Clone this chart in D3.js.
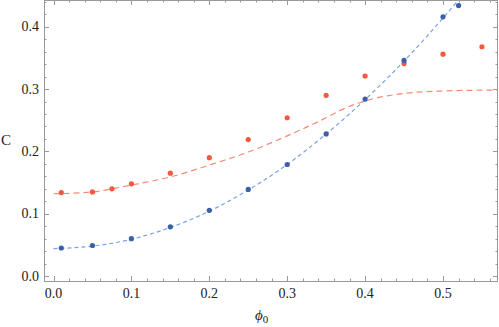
<!DOCTYPE html>
<html><head><meta charset="utf-8">
<script src="https://cdn.jsdelivr.net/npm/d3@7"></script>
<style>body{margin:0;background:#fff}svg{display:block}</style>
</head><body><svg id="c" width="499" height="327"></svg>
<script>
const redX = [0.01,0.05,0.075,0.1,0.15,0.2,0.25,0.3,0.35,0.4,0.45,0.5,0.55];
const redY = [0.134,0.135,0.140,0.148,0.165,0.190,0.219,0.254,0.290,0.321,0.341,0.356,0.368];
const blueX = [0.01,0.05,0.1,0.15,0.2,0.25,0.3,0.35,0.4,0.45,0.5,0.52];
const blueY = [0.045,0.049,0.060,0.079,0.1055,0.139,0.179,0.228,0.284,0.346,0.416,0.434];
const redFitX = [0,0.05,0.1,0.15,0.2,0.25,0.3,0.35,0.37,0.4,0.45,0.5,0.57];
const redFitY = [0.132,0.135,0.146,0.159,0.178,0.199,0.225,0.254,0.267,0.281,0.293,0.297,0.2985];
const blueFitX = [0,0.05,0.1,0.15,0.2,0.25,0.3,0.35,0.4,0.45,0.5,0.53];
const blueFitY = [0.044,0.048,0.059,0.078,0.104,0.138,0.179,0.228,0.283,0.345,0.414,0.458];
const xTicks = [0.0,0.1,0.2,0.3,0.4,0.5];
const yTicks = [0.0,0.1,0.2,0.3,0.4];

const L=44,R=498,T=0,B=281;
const svg=d3.select("#c");
const x=d3.scaleLinear().domain([-0.0122,0.5706]).range([L,R]);
const y=d3.scaleLinear().domain([-0.008,0.443]).range([B,T]);
const minorX=d3.range(0,0.58,0.02), minorY=d3.range(0,0.45,0.02);
const frame="#999";

svg.append("defs").append("clipPath").attr("id","cp").append("rect")
  .attr("x",L).attr("y",T).attr("width",R-L).attr("height",B-T);

svg.append("rect").attr("x",L+0.5).attr("y",T+0.5).attr("width",R-L-1).attr("height",B-T)
  .attr("fill","none").attr("stroke",frame).attr("stroke-width",1);

const g=svg.append("g").attr("stroke",frame).attr("stroke-width",1);
function tk(vals,len){
  vals.forEach(v=>{
    const px=Math.round(x(v))+0.5;
    g.append("line").attr("x1",px).attr("x2",px).attr("y1",B).attr("y2",B-len);
    g.append("line").attr("x1",px).attr("x2",px).attr("y1",T).attr("y2",T+len);
  });
}
function tky(vals,len){
  vals.forEach(v=>{
    const py=Math.round(y(v))+0.5;
    g.append("line").attr("x1",L).attr("x2",L+len).attr("y1",py).attr("y2",py);
    g.append("line").attr("x1",R).attr("x2",R-len).attr("y1",py).attr("y2",py);
  });
}
tk(minorX.filter(v=>Math.abs(v*10-Math.round(v*10))>1e-6),2.5);
tk(xTicks,5);
tky(minorY.filter(v=>Math.abs(v*10-Math.round(v*10))>1e-6),2.5);
tky(yTicks,5);

const font="'Liberation Serif','Times New Roman',serif";
svg.append("g").selectAll("text").data(xTicks).join("text")
  .attr("x",d=>x(d)).attr("y",298).attr("text-anchor","middle")
  .attr("font-family",font).attr("font-size",14).attr("fill","#222")
  .text(d=>d.toFixed(1));
svg.append("g").selectAll("text").data(yTicks).join("text")
  .attr("x",39).attr("y",d=>y(d)+4.5).attr("text-anchor","end")
  .attr("font-family",font).attr("font-size",14).attr("fill","#222")
  .text(d=>d.toFixed(1));
svg.append("text").attr("x",1).attr("y",145).attr("font-family",font)
  .attr("font-size",15).attr("fill","#222").text("C");
const xl=svg.append("text").attr("x",255).attr("y",320).attr("font-family",font)
  .attr("font-size",15).attr("fill","#222");
xl.append("tspan").attr("font-style","italic").text("ϕ");
xl.append("tspan").attr("font-size",11).attr("dy",3).text("0");

const pl=svg.append("g").attr("clip-path","url(#cp)");
const line=d3.line().x(d=>x(d[0])).y(d=>y(d[1])).curve(d3.curveMonotoneX);
pl.append("path").attr("d",line(d3.zip(redFitX,redFitY))).attr("fill","none")
  .attr("stroke","#f58b73").attr("stroke-width",1.2).attr("stroke-dasharray","6,4");
pl.append("path").attr("d",line(d3.zip(blueFitX,blueFitY))).attr("fill","none")
  .attr("stroke","#7aa3e6").attr("stroke-width",1.2).attr("stroke-dasharray","4,3");
pl.append("g").selectAll("circle").data(d3.zip(redX,redY)).join("circle")
  .attr("cx",d=>x(d[0])).attr("cy",d=>y(d[1])).attr("r",2.6).attr("fill","#f4583f");
pl.append("g").selectAll("circle").data(d3.zip(blueX,blueY)).join("circle")
  .attr("cx",d=>x(d[0])).attr("cy",d=>y(d[1])).attr("r",2.6).attr("fill","#3b5fa8");
</script></body></html>
